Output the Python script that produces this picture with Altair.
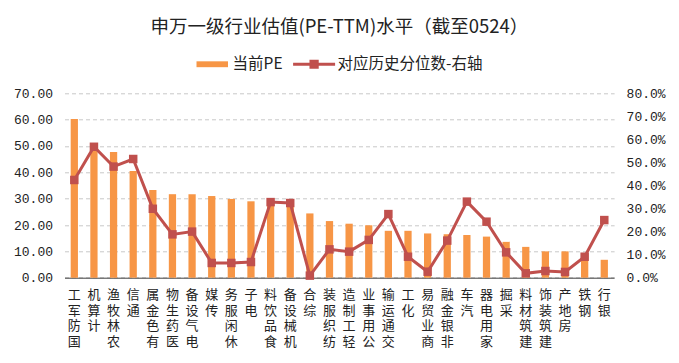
import altair as alt
import pandas as pd

categories = ["国防军工", "计算机", "农林牧渔", "通信", "有色金属", "医药生物", "电气设备",
              "传媒", "休闲服务", "电子", "食品饮料", "机械设备", "综合", "纺织服装",
              "轻工制造", "公用事业", "交通运输", "化工", "商业贸易", "非银金融", "汽车",
              "家用电器", "采掘", "建筑材料", "建筑装饰", "房地产", "钢铁", "银行"]
pe_values = [60.2, 51.0, 47.7, 40.5, 33.3, 31.7, 31.7, 31.0, 29.9, 29.0, 29.0, 28.5,
             24.4, 21.5, 20.5, 19.9, 17.8, 17.8, 16.8, 16.5, 16.2, 15.6, 13.6, 11.7,
             10.0, 10.0, 9.3, 6.8]
pct_values = [0.424, 0.568, 0.482, 0.515, 0.299, 0.188, 0.200, 0.064, 0.064, 0.068,
              0.328, 0.324, 0.009, 0.123, 0.113, 0.164, 0.276, 0.091, 0.026, 0.161,
              0.330, 0.243, 0.110, 0.019, 0.029, 0.025, 0.091, 0.250]
series_names = ["当前PE", "对应历史分位数-右轴"]
left_ticks = [0, 10, 20, 30, 40, 50, 60, 70]
right_ticks = [0, 0.1, 0.2, 0.3, 0.4, 0.5, 0.6, 0.7, 0.8]

ORANGE = "#F79646"
RED = "#C0504D"
CJK = "Noto Sans CJK SC"
NUM = "Liberation Mono"

df = pd.DataFrame({"行业": categories, "PE": pe_values, "分位数": pct_values})
leg_df = pd.DataFrame({"系列": series_names})

x_enc = alt.X("行业:N", sort=categories,
              scale=alt.Scale(paddingInner=0.63, paddingOuter=0.315),
              axis=alt.Axis(title=None, labelAngle=0, labelAlign="center",
                            labelBaseline="top",
                            labelExpr="reverse(split(datum.label, ''))",
                            labelFont=CJK, labelFontSize=13, labelLineHeight=15.5,
                            labelColor="#222222", labelPadding=11, ticks=False,
                            tickSize=0, domain=True, domainColor="#404040",
                            domainWidth=1, grid=False, labelOverlap=False,
                            labelBound=False))

bars = alt.Chart(df).mark_bar(color=ORANGE).encode(
    x=x_enc,
    y=alt.Y("PE:Q", scale=alt.Scale(domain=[0, 70], nice=False),
            axis=alt.Axis(title=None, values=left_ticks, format=".2f",
                          labelFont=NUM, labelFontSize=13, labelColor="#222222",
                          labelPadding=12, ticks=False, tickSize=0, domain=False,
                          grid=True, gridColor="#C8C8C8", gridDash=[4, 3],
                          gridWidth=1)),
)

line = alt.Chart(df).mark_line(
    color=RED, strokeWidth=3,
    point=alt.OverlayMarkDef(shape="square", size=72, filled=True, color=RED, opacity=1),
).encode(
    x=alt.X("行业:N", sort=categories),
    y=alt.Y("分位数:Q", scale=alt.Scale(domain=[0, 0.8], nice=False),
            axis=alt.Axis(title=None, orient="right", values=right_ticks,
                          format=".1%", labelFont=NUM, labelFontSize=13,
                          labelColor="#222222", labelPadding=12, ticks=False,
                          tickSize=0, domain=False, grid=False)),
)

orange_path = "M-0.6,-0.14H0.9V0.14H-0.6Z"
red_path = ("M-1,-0.075H-0.22V-0.22H0.22V-0.075H1V0.075H0.22V0.22H-0.22V0.075H-1Z")

legend_def = alt.Legend(title=None, orient="none", legendX=123.6, legendY=-50.3,
                        direction="horizontal", symbolSize=1764, symbolStrokeWidth=0,
                        labelFont=CJK, labelFontSize=15.5, labelColor="#222222",
                        labelOffset=2.5, columnPadding=10, padding=0)

legend_layer = alt.Chart(leg_df).mark_point(filled=True, size=0, opacity=1).encode(
    color=alt.Color("系列:N", scale=alt.Scale(domain=series_names, range=[ORANGE, RED]),
                    legend=legend_def),
    shape=alt.Shape("系列:N", scale=alt.Scale(domain=series_names,
                                              range=[orange_path, red_path]),
                    legend=legend_def),
)

chart = alt.layer(bars, line, legend_layer).resolve_scale(y="independent").properties(
    width=549.6, height=184.4,
    autosize=alt.AutoSizeParams(type="none"),
    padding={"left": 56.5, "top": 85.3, "right": 56.9, "bottom": 77.3},
    title=alt.TitleParams("申万一级行业估值(PE-TTM)水平（截至0524）", font=CJK,
                          fontSize=18.5, fontWeight="normal", color="#222222",
                          anchor="middle", offset=7),
).configure_view(stroke=None)

chart.save("out.html", embed_options={"renderer": "svg", "actions": False})
